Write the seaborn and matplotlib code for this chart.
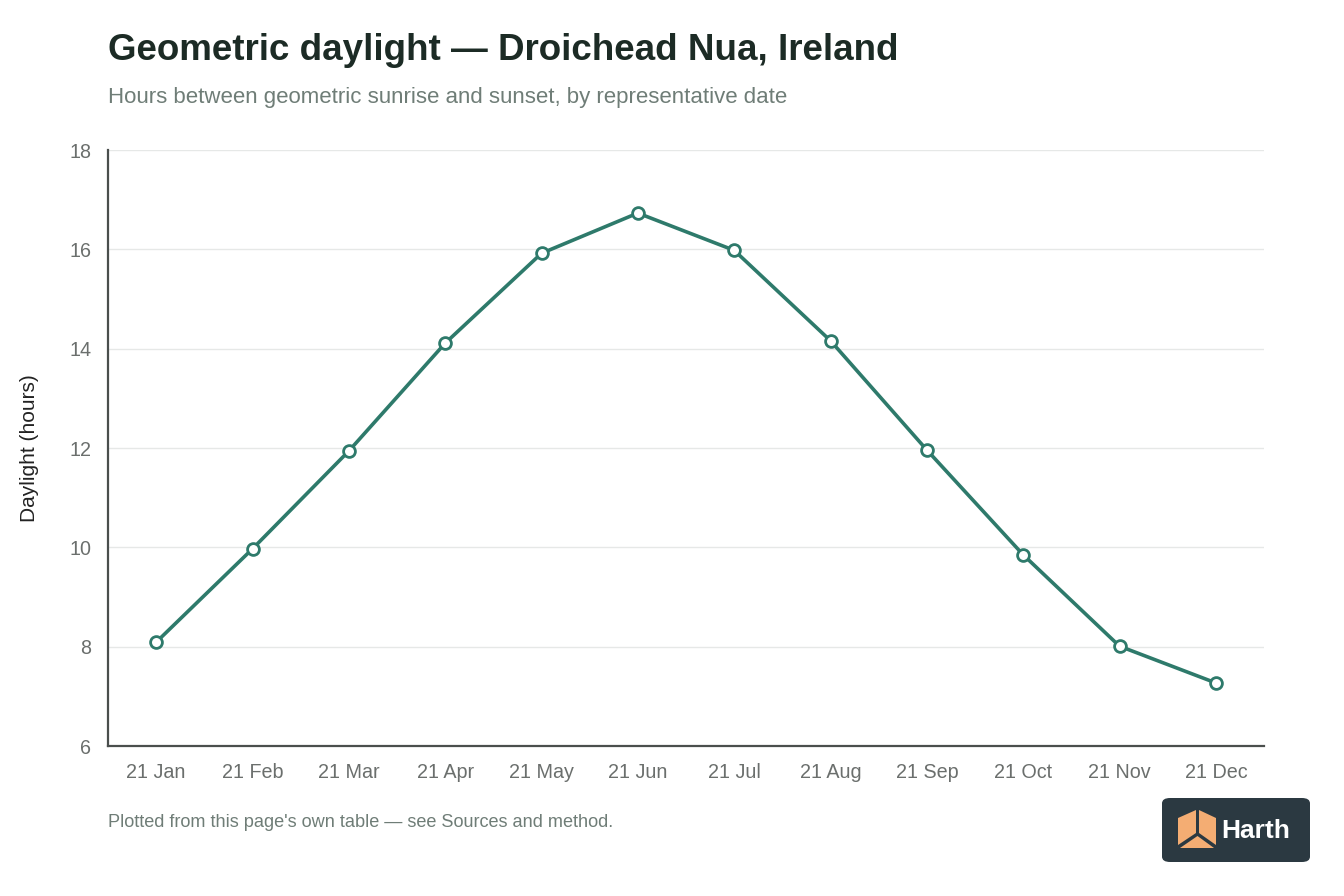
import matplotlib
matplotlib.use("Agg")
import matplotlib.pyplot as plt
import seaborn as sns
import pandas as pd
from matplotlib.patches import FancyBboxPatch, Polygon

dates = ["21 Jan", "21 Feb", "21 Mar", "21 Apr", "21 May", "21 Jun",
         "21 Jul", "21 Aug", "21 Sep", "21 Oct", "21 Nov", "21 Dec"]
daylight = [8.09, 9.97, 11.94, 14.11, 15.92, 16.73,
            15.98, 14.16, 11.96, 9.85, 8.01, 7.27]
yticks = [6, 8, 10, 12, 14, 16, 18]

sns.set_theme(style="white")
plt.rcParams['font.family'] = ['Liberation Sans', 'DejaVu Sans']

df = pd.DataFrame({"date": dates, "hours": daylight})

fig = plt.figure(figsize=(13.44, 8.96), dpi=100)
ax = fig.add_axes([108/1344, 1-746/896, (1264-108)/1344, (746-150)/896])

line_color = "#2e7a6b"
sns.lineplot(data=df, x="date", y="hours", ax=ax, sort=False,
             color=line_color, linewidth=2.6, marker="o", markersize=8.5,
             markerfacecolor="white", markeredgecolor=line_color,
             markeredgewidth=2.0, zorder=3)

ax.set_xlim(-0.5, len(dates) - 0.5)
ax.set_ylim(6, 18)
ax.set_yticks(yticks)
ax.set_yticklabels([str(v) for v in yticks])
ax.yaxis.grid(True, color="#e6e8e7", linewidth=1.0)
ax.xaxis.grid(False)
ax.set_axisbelow(True)
for s in ["top", "right"]:
    ax.spines[s].set_visible(False)
for s in ["left", "bottom"]:
    ax.spines[s].set_color("#4a4f4d")
    ax.spines[s].set_linewidth(1.6)
ax.tick_params(axis="both", length=0, labelsize=14.2, colors="#6b6f6d")
ax.tick_params(axis="x", pad=12)
ax.tick_params(axis="y", pad=12)
ax.set_xlabel("")
ax.set_ylabel("Daylight (hours)", fontsize=15, color="#222222", labelpad=22)

fig.text(108/1344, 1-51/896, "Geometric daylight — Droichead Nua, Ireland",
         fontsize=26.5, fontweight="bold", color="#1c2b25", va="center", ha="left")
fig.text(108/1344, 1-98/896, "Hours between geometric sunrise and sunset, by representative date",
         fontsize=16, color="#6f7d77", va="center", ha="left")
fig.text(108/1344, 1-822/896, "Plotted from this page's own table — see Sources and method.",
         fontsize=13.1, color="#6f7d77", va="center", ha="left")

# Logo badge
x0, y0, w, h = 1162/1344, 1-862/896, 148/1344, 64/896
badge = FancyBboxPatch((x0, y0), w, h, boxstyle="round,pad=0,rounding_size=0.006",
                       transform=fig.transFigure, facecolor="#2b3941",
                       edgecolor="none", zorder=5)
fig.patches.append(badge)
def fx(px):
    return px/1344
def fy(py):
    return 1-py/896
orange = "#f4ad73"
left_face = Polygon([(fx(1178), fy(818)), (fx(1196), fy(810)), (fx(1196), fy(833)),
                     (fx(1178), fy(845))], closed=True, transform=fig.transFigure,
                    facecolor=orange, edgecolor="none", zorder=6)
right_face = Polygon([(fx(1199), fy(810)), (fx(1216), fy(818)), (fx(1216), fy(845)),
                      (fx(1199), fy(833))], closed=True, transform=fig.transFigure,
                     facecolor=orange, edgecolor="none", zorder=6)
bottom_face = Polygon([(fx(1180), fy(848)), (fx(1197.5), fy(836)), (fx(1214), fy(848))],
                      closed=True, transform=fig.transFigure,
                      facecolor=orange, edgecolor="none", zorder=6)
for p in (left_face, right_face, bottom_face):
    fig.patches.append(p)
fig.text(fx(1221), fy(831), "Harth", fontsize=19, fontweight="bold",
         color="white", va="center", ha="left", zorder=7)

fig.savefig("out.png", dpi=100, facecolor="white")
